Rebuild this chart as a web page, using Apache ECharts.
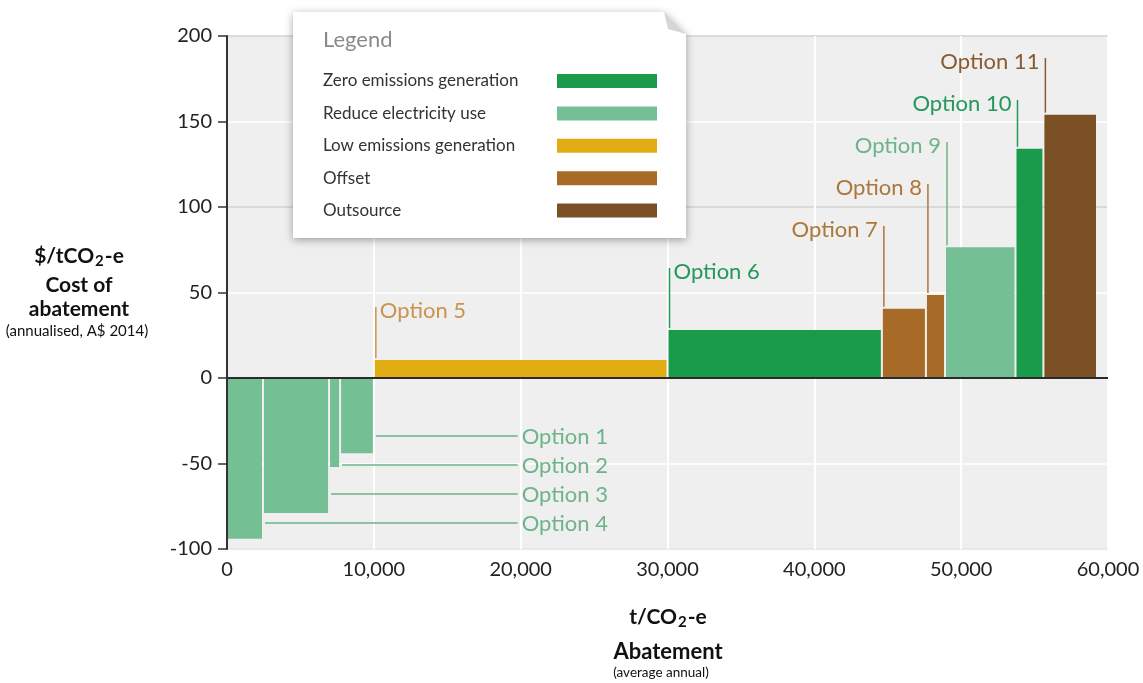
<!DOCTYPE html>
<html><head><meta charset="utf-8">
<script src="https://cdn.jsdelivr.net/npm/echarts@6/dist/echarts.min.js"></script>
<style>html,body{margin:0;padding:0;background:#fff}#c{width:1143px;height:683px}</style>
</head><body><div id="c"></div><script>
// ---- data ----
const categories = ['Zero emissions generation', 'Reduce electricity use', 'Low emissions generation', 'Offset', 'Outsource'];
const optionNames = ['Option 4', 'Option 3', 'Option 2', 'Option 1', 'Option 5', 'Option 6', 'Option 7', 'Option 8', 'Option 9', 'Option 10', 'Option 11'];
const optionCategory = ['Reduce electricity use', 'Reduce electricity use', 'Reduce electricity use', 'Reduce electricity use',
  'Low emissions generation', 'Zero emissions generation', 'Offset', 'Offset', 'Reduce electricity use',
  'Zero emissions generation', 'Outsource'];
const abatement = [2450, 4500, 750, 2300, 20000, 14600, 3000, 1300, 4800, 1900, 3650]; // t CO2-e per option
const cost = [-94, -79, -52, -44, 10.5, 28, 40.5, 48.5, 76.5, 134, 154];              // $/tCO2-e
const yTicks = { min: -100, max: 200, interval: 50 };
const xTicks = { min: 0, max: 60000, interval: 10000 };

// ---- styles ----
const barColors = ['#1a9b4b', '#74bf94', '#e2ad12', '#a86b27', '#7a5024'];
const labelColors = ['#22985a', '#6db48b', '#c9944e', '#ad763a', '#8a5c2d'];
const FONT = 'Lato';

// cumulative start/end of each option
const starts = [], ends = [];
abatement.reduce((acc, w, i) => { starts.push(acc); ends.push(acc + w); return acc + w; }, 0);
const negCount = cost.filter(c => c < 0).length;

function renderBar(params, api) {
  const x0 = api.value(0), x1 = api.value(1), v = api.value(2), idx = api.value(3), ci = api.value(4);
  const p0 = api.coord([x0, 0]), p1 = api.coord([x1, v]);
  const zeroY = p0[1];
  const left = p0[0] + 1, right = p1[0] - 1;
  const top = Math.min(p0[1], p1[1]), h = Math.abs(p1[1] - p0[1]);
  const lc = labelColors[ci];
  const children = [{
    type: 'rect', shape: { x: left, y: top, width: right - left, height: h },
    style: { fill: barColors[ci] }
  }];
  if (v < 0) {
    const k = (negCount - 1) - idx;
    const ly = zeroY + 58 + 29 * k;
    const lx = api.coord([20000, 0])[0] + 1;
    children.push({ type: 'line', shape: { x1: right + 3, y1: ly, x2: lx - 4, y2: ly }, style: { stroke: lc, lineWidth: 1.5 } });
    children.push({ type: 'text', style: { x: lx, y: ly + 1, text: optionNames[idx], fill: lc, font: '22px ' + FONT, align: 'left', verticalAlign: 'middle' } });
  } else {
    const j = idx - negCount;
    const ly = j === 0 ? zeroY - 68 : zeroY - 107 - 42 * (j - 1);
    const lineX = left + 1;
    children.push({ type: 'line', shape: { x1: lineX, y1: ly - 3, x2: lineX, y2: top - 2 }, style: { stroke: lc, lineWidth: 1.5 } });
    const leftSide = j >= 2;
    children.push({ type: 'text', style: { x: leftSide ? lineX - 6 : lineX + 4, y: ly + 1, text: optionNames[idx], fill: lc,
      font: '22px ' + FONT, align: leftSide ? 'right' : 'left', verticalAlign: 'middle' } });
  }
  return { type: 'group', children };
}

const series = categories.map((cat, ci) => ({
  name: cat,
  type: 'custom',
  renderItem: renderBar,
  itemStyle: { color: barColors[ci] },
  encode: { x: [0, 1], y: 2 },
  data: optionNames.map((n, i) => [starts[i], ends[i], cost[i], i, ci]).filter((d, i) => optionCategory[i] === cat),
  z: 3,
  silent: true
}));
// zero reference line
series.push({
  name: 'zero', type: 'custom', z: 5, silent: true,
  data: [[xTicks.min, xTicks.max]],
  encode: { x: [0, 1] },
  renderItem: (params, api) => {
    const a = api.coord([api.value(0), 0]), b = api.coord([api.value(1), 0]);
    return { type: 'line', shape: { x1: a[0], y1: a[1], x2: b[0], y2: b[1] }, style: { stroke: '#2b2b2b', lineWidth: 2 } };
  }
});

const chart = echarts.init(document.getElementById('c'), null, { renderer: 'canvas' });
chart.setOption({
  animation: false,
  backgroundColor: '#ffffff',
  textStyle: { fontFamily: FONT },
  grid: { left: 227, right: 35, top: 36, bottom: 134, show: true, backgroundColor: '#efefef', borderWidth: 0 },
  xAxis: {
    type: 'value', min: xTicks.min, max: xTicks.max, interval: xTicks.interval,
    axisLine: { show: false }, axisTick: { show: false },
    axisLabel: { color: '#222', fontSize: 20, fontFamily: FONT, margin: 11,
      formatter: v => v.toLocaleString('en-US') },
    splitLine: { show: true, lineStyle: { color: '#ffffff', width: 2 } }
  },
  yAxis: {
    type: 'value', min: yTicks.min, max: yTicks.max, interval: yTicks.interval,
    axisLine: { show: true, onZero: false, lineStyle: { color: '#333', width: 2 } },
    axisTick: { show: true, length: 9, lineStyle: { color: '#333', width: 1.5 } },
    axisLabel: { color: '#222', fontSize: 20, fontFamily: FONT, margin: 15 },
    splitLine: { show: true, lineStyle: { color: ['#e4e4e4', '#ffffff', '#ffffff', '#ffffff', '#d2d2d2', '#ffffff', '#d2d2d2'], width: 1.6 } }
  },
  legend: {
    orient: 'vertical', left: 323, top: 72, align: 'right', z: 30, padding: 0,
    itemWidth: 100, itemHeight: 14, itemGap: 14.4, icon: 'rect', selectedMode: false,
    data: categories,
    formatter: n => '{t|' + n + '}',
    textStyle: { color: '#333', fontSize: 17, fontFamily: FONT, lineHeight: 18,
      rich: { t: { width: 229, align: 'left', fontSize: 17, fontFamily: FONT, color: '#333', lineHeight: 18 } } }
  },
  graphic: [
    { type: 'polygon', z: 20, silent: true,
      shape: { points: [[293, 12], [664, 12], [686, 34], [686, 238], [293, 238]] },
      style: { fill: '#ffffff', shadowBlur: 8, shadowColor: 'rgba(0,0,0,0.35)', shadowOffsetX: 0, shadowOffsetY: 2 } },
    { type: 'polygon', z: 21, silent: true,
      shape: { points: [[664, 12], [686, 34], [668, 29]] },
      style: { fill: '#d6d6d6' } },
    { type: 'text', z: 22, silent: true,
      style: { x: 323, y: 40, text: 'Legend', font: '22px ' + FONT, fill: '#8a8a8a', verticalAlign: 'middle' } },
    // y axis title
    { type: 'text', z: 22, silent: true,
      style: { x: 79, y: 256, text: '{b|$/tCO}{s|2}{b|-e}', align: 'center', verticalAlign: 'middle',
        rich: { b: { font: 'bold 21px ' + FONT, fill: '#111', lineHeight: 26 },
                s: { font: 'bold 15px ' + FONT, fill: '#111', lineHeight: 26, padding: [10, 1, 0, 1] } } } },
    { type: 'text', z: 22, silent: true,
      style: { x: 79, y: 285, text: 'Cost of', align: 'center', verticalAlign: 'middle', font: 'bold 21px ' + FONT, fill: '#111' } },
    { type: 'text', z: 22, silent: true,
      style: { x: 79, y: 309, text: 'abatement', align: 'center', verticalAlign: 'middle', font: 'bold 21px ' + FONT, fill: '#111' } },
    { type: 'text', z: 22, silent: true,
      style: { x: 77, y: 331, text: '(annualised, A$ 2014)', align: 'center', verticalAlign: 'middle', font: '15px ' + FONT, fill: '#111' } },
    // x axis title
    { type: 'text', z: 22, silent: true,
      style: { x: 668, y: 617, text: '{b|t/CO}{s|2}{b|-e}', align: 'center', verticalAlign: 'middle',
        rich: { b: { font: 'bold 21px ' + FONT, fill: '#111', lineHeight: 26 },
                s: { font: 'bold 15px ' + FONT, fill: '#111', lineHeight: 26, padding: [10, 1, 0, 1] } } } },
    { type: 'text', z: 22, silent: true,
      style: { x: 668, y: 652, text: 'Abatement', align: 'center', verticalAlign: 'middle', font: 'bold 22px ' + FONT, fill: '#111' } },
    { type: 'text', z: 22, silent: true,
      style: { x: 661, y: 673, text: '(average annual)', align: 'center', verticalAlign: 'middle', font: '13.5px ' + FONT, fill: '#111' } }
  ],
  series
});
</script></body></html>
